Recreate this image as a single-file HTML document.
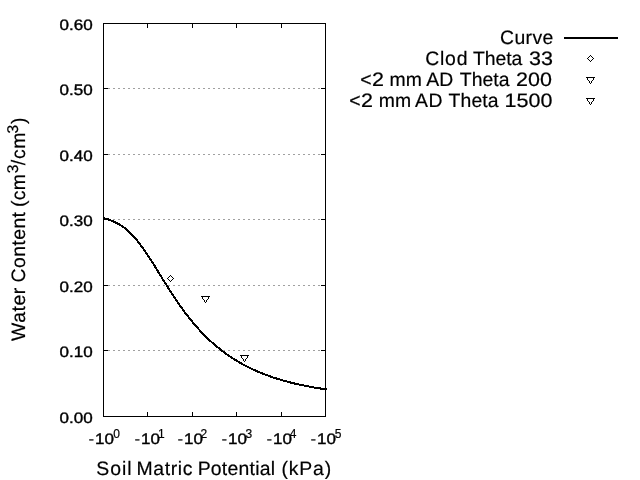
<!DOCTYPE html>
<html><head><meta charset="utf-8"><title>Soil water retention curve</title>
<style>
html,body{margin:0;padding:0;background:#fff;}
body{width:640px;height:480px;overflow:hidden;}
svg{display:block;font-family:"Liberation Sans",Arial,sans-serif;fill:#000;}
.t{font-size:15.2px;text-rendering:geometricPrecision;stroke:#000;stroke-width:0.4px;}
.s{font-size:12px;stroke:#000;stroke-width:0.2px;}
.l{font-size:19.4px;text-rendering:geometricPrecision;stroke:#000;stroke-width:0.2px;}
.ls{font-size:15.52px;}
.cr{shape-rendering:crispEdges;}
</style></head><body>
<svg width="640" height="480" viewBox="0 0 640 480">
<rect width="640" height="480" fill="#fff"/>
<g class="cr" stroke="#a0a0a0" stroke-width="1" stroke-dasharray="2 3" fill="none">
<line x1="108" y1="350.5" x2="325" y2="350.5"/>
<line x1="108" y1="285.5" x2="325" y2="285.5"/>
<line x1="108" y1="219.5" x2="325" y2="219.5"/>
<line x1="108" y1="154.5" x2="325" y2="154.5"/>
<line x1="108" y1="88.5" x2="325" y2="88.5"/>
</g>
<g class="cr" stroke="#000" stroke-width="1" fill="none">
<rect x="103.5" y="23.5" width="222" height="393"/>
<line x1="104" y1="350.5" x2="108" y2="350.5"/>
<line x1="321" y1="350.5" x2="325" y2="350.5"/>
<line x1="104" y1="285.5" x2="108" y2="285.5"/>
<line x1="321" y1="285.5" x2="325" y2="285.5"/>
<line x1="104" y1="219.5" x2="108" y2="219.5"/>
<line x1="321" y1="219.5" x2="325" y2="219.5"/>
<line x1="104" y1="154.5" x2="108" y2="154.5"/>
<line x1="321" y1="154.5" x2="325" y2="154.5"/>
<line x1="104" y1="88.5" x2="108" y2="88.5"/>
<line x1="321" y1="88.5" x2="325" y2="88.5"/>
<line x1="147.5" y1="412" x2="147.5" y2="416"/>
<line x1="147.5" y1="24" x2="147.5" y2="28"/>
<line x1="192.5" y1="412" x2="192.5" y2="416"/>
<line x1="192.5" y1="24" x2="192.5" y2="28"/>
<line x1="236.5" y1="412" x2="236.5" y2="416"/>
<line x1="236.5" y1="24" x2="236.5" y2="28"/>
<line x1="281.5" y1="412" x2="281.5" y2="416"/>
<line x1="281.5" y1="24" x2="281.5" y2="28"/>
</g>
<polyline class="cr" points="103.5,218.1 105.7,218.7 107.9,219.3 110.2,220.1 112.4,221.0 114.6,222.0 116.8,223.1 119.0,224.3 121.3,225.7 123.5,227.2 125.7,228.9 127.9,230.8 130.1,232.9 132.4,235.1 134.6,237.6 136.8,240.1 139.0,242.9 141.2,245.8 143.5,248.9 145.7,252.1 147.9,255.4 150.1,258.8 152.3,262.3 154.6,265.9 156.8,269.4 159.0,273.1 161.2,276.7 163.4,280.3 165.7,283.8 167.9,287.4 170.1,290.9 172.3,294.3 174.5,297.7 176.8,301.0 179.0,304.2 181.2,307.3 183.4,310.4 185.6,313.4 187.9,316.3 190.1,319.1 192.3,321.8 194.5,324.4 196.7,327.0 199.0,329.5 201.2,331.9 203.4,334.2 205.6,336.4 207.8,338.6 210.1,340.7 212.3,342.7 214.5,344.6 216.7,346.5 218.9,348.3 221.2,350.1 223.4,351.8 225.6,353.4 227.8,355.0 230.0,356.5 232.3,358.0 234.5,359.4 236.7,360.8 238.9,362.1 241.1,363.4 243.4,364.6 245.6,365.8 247.8,366.9 250.0,368.0 252.2,369.1 254.5,370.1 256.7,371.1 258.9,372.1 261.1,373.0 263.3,373.9 265.6,374.7 267.8,375.5 270.0,376.3 272.2,377.1 274.4,377.9 276.7,378.6 278.9,379.3 281.1,379.9 283.3,380.6 285.5,381.2 287.8,381.8 290.0,382.4 292.2,382.9 294.4,383.5 296.6,384.0 298.9,384.5 301.1,385.0 303.3,385.4 305.5,385.9 307.7,386.3 310.0,386.7 312.2,387.1 314.4,387.5 316.6,387.9 318.8,388.2 321.1,388.6 323.3,388.9 325.5,389.2 327.0,389.5" fill="none" stroke="#000" stroke-width="2" stroke-linejoin="round"/>
<polygon class="cr" points="167.5,278.5 170.5,275.5 173.5,278.5 170.5,281.5" fill="none" stroke="#000" stroke-width="1"/>
<polygon class="cr" points="201.5,296.5 209.5,296.5 205.5,302.5" fill="none" stroke="#000" stroke-width="1"/>
<polygon class="cr" points="240.5,355.5 248.5,355.5 244.5,361.5" fill="none" stroke="#000" stroke-width="1"/>
<line class="cr" x1="564" y1="38" x2="618" y2="38" stroke="#000" stroke-width="2"/>
<polygon class="cr" points="587.5,58.5 590.5,55.5 593.5,58.5 590.5,61.5" fill="none" stroke="#000" stroke-width="1"/>
<polygon class="cr" points="586.5,77.5 594.5,77.5 590.5,83.5" fill="none" stroke="#000" stroke-width="1"/>
<polygon class="cr" points="586.5,98.5 594.5,98.5 590.5,104.5" fill="none" stroke="#000" stroke-width="1"/>
<text class="l" y="43.6"><tspan x="500.09" style="letter-spacing:0.351px">Curve</tspan></text>
<text class="l" y="64.6"><tspan x="425.19" style="letter-spacing:0.796px">Clod </tspan><tspan x="472.90" style="letter-spacing:-0.034px">Theta </tspan><tspan x="529.02" textLength="23.95" lengthAdjust="spacingAndGlyphs">33</tspan></text>
<text class="l" y="85.6"><tspan x="360.22">&lt;</tspan><tspan x="371.90" textLength="11.98" lengthAdjust="spacingAndGlyphs">2</tspan> <tspan x="389.53" style="letter-spacing:0.196px">mm </tspan><tspan x="426.13" style="letter-spacing:0.256px">AD </tspan><tspan x="459.80" style="letter-spacing:0.053px">Theta </tspan><tspan x="515.99" textLength="35.92" lengthAdjust="spacingAndGlyphs">200</tspan></text>
<text class="l" y="106.6"><tspan x="349.22">&lt;</tspan><tspan x="361.05" textLength="11.98" lengthAdjust="spacingAndGlyphs">2</tspan> <tspan x="378.68" style="letter-spacing:0.296px">mm </tspan><tspan x="415.03" style="letter-spacing:0.456px">AD </tspan><tspan x="448.60" style="letter-spacing:0.103px">Theta </tspan><tspan x="504.52" textLength="47.89" lengthAdjust="spacingAndGlyphs">1500</tspan></text>
<text class="t" transform="translate(92.7,422.9) scale(1.120,1)" text-anchor="end">0.00</text>
<text class="t" transform="translate(92.7,356.9) scale(1.120,1)" text-anchor="end">0.10</text>
<text class="t" transform="translate(92.7,291.9) scale(1.120,1)" text-anchor="end">0.20</text>
<text class="t" transform="translate(92.7,225.9) scale(1.120,1)" text-anchor="end">0.30</text>
<text class="t" transform="translate(92.7,160.9) scale(1.120,1)" text-anchor="end">0.40</text>
<text class="t" transform="translate(92.7,94.9) scale(1.120,1)" text-anchor="end">0.50</text>
<text class="t" transform="translate(92.7,29.9) scale(1.120,1)" text-anchor="end">0.60</text>
<text class="t" transform="translate(88.40,444) scale(1.120,1)"><tspan style="stroke-width:0.1px">-</tspan><tspan dx="0.9">10</tspan></text>
<text class="s" x="113.20" y="437.7">0</text>
<text class="t" transform="translate(134.40,444) scale(1.120,1)"><tspan style="stroke-width:0.1px">-</tspan><tspan dx="0.9">10</tspan></text>
<text class="s" x="158.00" y="437.7">1</text>
<text class="t" transform="translate(177.40,444) scale(1.120,1)"><tspan style="stroke-width:0.1px">-</tspan><tspan dx="0.9">10</tspan></text>
<text class="s" x="200.50" y="437.7">2</text>
<text class="t" transform="translate(221.40,444) scale(1.120,1)"><tspan style="stroke-width:0.1px">-</tspan><tspan dx="0.9">10</tspan></text>
<text class="s" x="245.50" y="437.7">3</text>
<text class="t" transform="translate(266.40,444) scale(1.120,1)"><tspan style="stroke-width:0.1px">-</tspan><tspan dx="0.9">10</tspan></text>
<text class="s" x="289.85" y="437.7">4</text>
<text class="t" transform="translate(310.40,444) scale(1.120,1)"><tspan style="stroke-width:0.1px">-</tspan><tspan dx="0.9">10</tspan></text>
<text class="s" x="334.75" y="437.7">5</text>
<text class="l" y="474.7"><tspan x="96.32" style="letter-spacing:0.959px">Soil </tspan><tspan x="136.43" style="letter-spacing:0.652px">Matric </tspan><tspan x="197.63" style="letter-spacing:0.262px">Potential </tspan><tspan x="281.52" style="letter-spacing:0.828px">(kPa)</tspan></text>
<text class="l" transform="translate(25.3,0) rotate(-90)"><tspan x="-340.94" y="0" style="letter-spacing:0.558px">Water </tspan><tspan x="-282.51" y="0" style="letter-spacing:0.432px">Content </tspan><tspan x="-207.03" y="0" style="letter-spacing:0.280px">(cm</tspan><tspan class="ls" x="-173.32" y="-7.8">3</tspan><tspan x="-165.13" y="0" style="letter-spacing:0.633px">/cm</tspan><tspan class="ls" x="-133.47" y="-7.8">3</tspan><tspan x="-123.97" y="0">)</tspan></text>
</svg></body></html>
